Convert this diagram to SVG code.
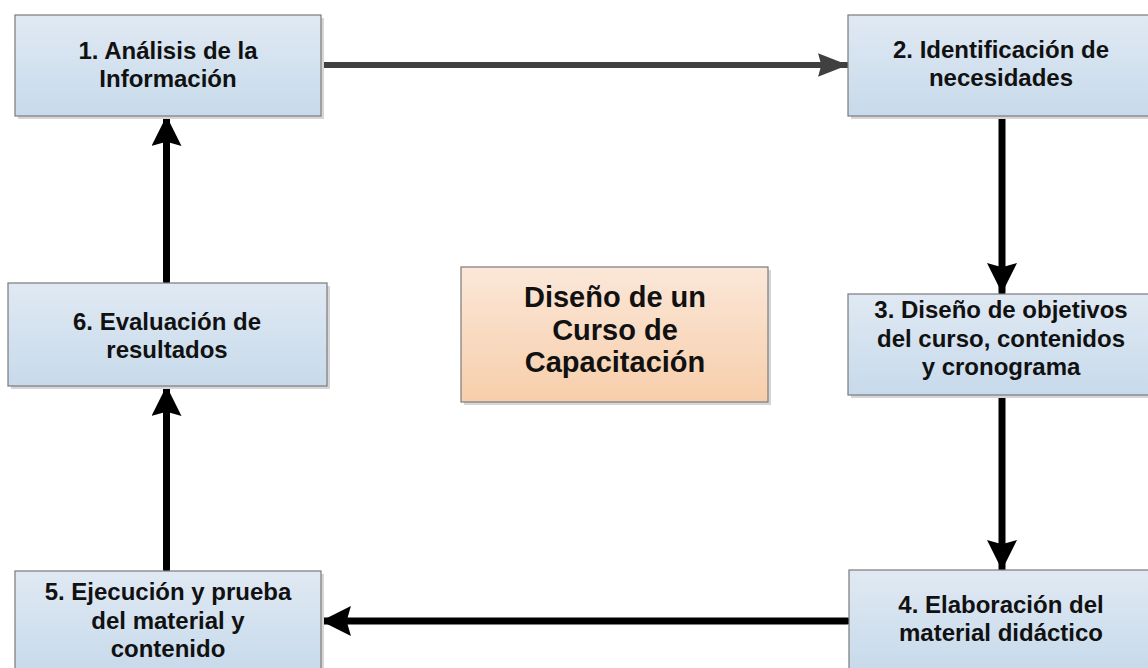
<svg xmlns="http://www.w3.org/2000/svg" width="1148" height="668" viewBox="0 0 1148 668">
<style>
.box{fill:url(#blue);stroke:#7a7a7a;stroke-width:1.2}
.center{fill:url(#orange);stroke:#7a7a7a;stroke-width:1.2}
.shadow{fill:#d6d6d6}
.t{font-family:"Liberation Sans",Arial,sans-serif;font-weight:bold;font-size:24px;fill:#111;text-anchor:middle}
.tc{font-family:"Liberation Sans",Arial,sans-serif;font-weight:bold;font-size:29px;fill:#111;text-anchor:middle}
.blk{stroke:#000;stroke-width:7;fill:none;stroke-linecap:round}
.gry{stroke:#404040;stroke-width:6;fill:none;stroke-linecap:round}
</style>
<defs>
<linearGradient id="blue" x1="0" y1="0" x2="0" y2="1">
<stop offset="0" stop-color="#e0e9f3"/>
<stop offset="1" stop-color="#c7daeb"/>
</linearGradient>
<linearGradient id="orange" x1="0" y1="0" x2="0" y2="1">
<stop offset="0" stop-color="#fbe7d8"/>
<stop offset="1" stop-color="#f7ceab"/>
</linearGradient>
<marker id="ah" markerUnits="userSpaceOnUse" markerWidth="30" markerHeight="30" viewBox="0 0 28 28" refX="27" refY="14" orient="auto">
<path d="M0,0 L28,14 L0,28 L4,14 z" fill="#000"/>
</marker>
<marker id="ahg" markerUnits="userSpaceOnUse" markerWidth="30" markerHeight="30" viewBox="0 0 28 28" refX="27" refY="14" orient="auto">
<path d="M0,3 L28,14 L0,25 L3,14 z" fill="#404040"/>
</marker>
</defs>
<rect width="1148" height="668" fill="#fff"/>

<g id="connectors">
<path class="gry" d="M318,65 H847" marker-end="url(#ahg)"/>
<path class="blk" d="M1002,117 V292" marker-end="url(#ah)"/>
<path class="blk" d="M1002,397 V569" marker-end="url(#ah)"/>
<path class="blk" d="M847,621 H322" marker-end="url(#ah)"/>
<path class="blk" d="M166.5,569 V387" marker-end="url(#ah)"/>
<path class="blk" d="M166.5,281 V117" marker-end="url(#ah)"/>
</g>

<g id="node1">
<rect class="shadow" x="18" y="18" width="306" height="101"/>
<rect class="box" x="15" y="15" width="306" height="101"/>
<text class="t" x="168" y="59">1. Análisis de la</text>
<text class="t" x="168" y="87">Información</text>
</g>

<g id="node2">
<rect class="shadow" x="851" y="18" width="306" height="101"/>
<rect class="box" x="848" y="15" width="306" height="101"/>
<text class="t" x="1001" y="58">2. Identificación de</text>
<text class="t" x="1001" y="86">necesidades</text>
</g>

<g id="node3">
<rect class="shadow" x="851" y="297" width="306" height="101"/>
<rect class="box" x="848" y="294" width="306" height="101"/>
<text class="t" x="1001" y="318">3. Diseño de objetivos</text>
<text class="t" x="1001" y="346.5">del curso, contenidos</text>
<text class="t" x="1001" y="375">y cronograma</text>
</g>

<g id="node4">
<rect class="shadow" x="852" y="573" width="306" height="101"/>
<rect class="box" x="849" y="570" width="306" height="101"/>
<text class="t" x="1001" y="613">4. Elaboración del</text>
<text class="t" x="1001" y="641">material didáctico</text>
</g>

<g id="node5">
<rect class="shadow" x="18" y="574" width="306" height="101"/>
<rect class="box" x="15" y="571" width="306" height="101"/>
<text class="t" x="168" y="600">5. Ejecución y prueba</text>
<text class="t" x="168" y="628.5">del material y</text>
<text class="t" x="168" y="657">contenido</text>
</g>

<g id="node6">
<rect class="shadow" x="11" y="286" width="319" height="103"/>
<rect class="box" x="8" y="283" width="319" height="103"/>
<text class="t" x="167" y="329.5">6. Evaluación de</text>
<text class="t" x="167" y="357.5">resultados</text>
</g>

<g id="center">
<rect class="shadow" x="464" y="270" width="307" height="135"/>
<rect class="center" x="461" y="267" width="307" height="135"/>
<text class="tc" x="615" y="307">Diseño de un</text>
<text class="tc" x="615" y="339.5">Curso de</text>
<text class="tc" x="615" y="372">Capacitación</text>
</g>
</svg>
